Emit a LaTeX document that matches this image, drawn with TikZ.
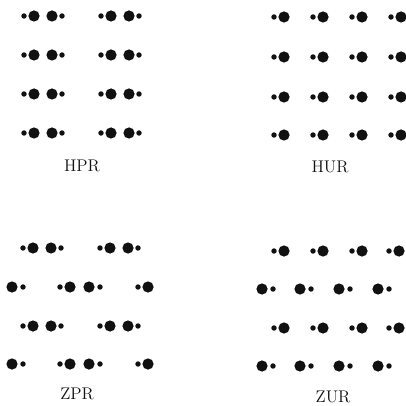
\documentclass[tikz,border=0pt]{standalone}
\usetikzlibrary{positioning}
\definecolor{ink}{HTML}{111111}
\tikzset{
  bigdot/.style={fill=ink, radius=0.14cm},
  smalldot/.style={fill=ink, radius=0.068cm},
  patname/.style={font=\large, text=ink, inner sep=1pt},
}
\begin{document}
\begin{tikzpicture}[x=0.025cm, y=-0.025cm]
\useasboundingbox (0,0) rectangle (406,406);
% HPR
\foreach \y in {16,55,94,133}
  \foreach \x in {24,101} {
    \foreach \d in {0,38} \path[smalldot] (\x+\d,\y) circle;
    \foreach \d in {10,28} \path[bigdot] (\x+\d,\y) circle;
  }
\node[patname] (hpr) at (82,166) {HPR};
% HUR
\foreach \y in {17,57,97,135}
  \foreach \x in {274,313,352,391} {
    \path[smalldot] (\x,\y) circle;
    \path[bigdot] (\x+10,\y) circle;
  }
\node[patname] (hur) at (330,167) {HUR};
% ZPR
\foreach \y in {248,326}
  \foreach \x in {23,100} {
    \foreach \d in {0,38} \path[smalldot] (\x+\d,\y) circle;
    \foreach \d in {10,28} \path[bigdot] (\x+\d,\y) circle;
  }
\foreach \y in {287,364} {
  \foreach \x in {12,70,89,148} \path[bigdot] (\x,\y) circle;
  \foreach \x in {23,60,100,138} \path[smalldot] (\x,\y) circle;
}
\node[patname] (zpr) at (77,394) {ZPR};
% ZUR
\foreach \y in {251,328}
  \foreach \x in {274,313,352,389} {
    \path[smalldot] (\x,\y) circle;
    \path[bigdot] (\x+10,\y) circle;
  }
\foreach \y in {289,366}
  \foreach \x in {262,300,339,378} {
    \path[bigdot] (\x,\y) circle;
    \path[smalldot] (\x+11,\y) circle;
  }
\node[patname] (zur) at (333,397) {ZUR};
\end{tikzpicture}
\end{document}
